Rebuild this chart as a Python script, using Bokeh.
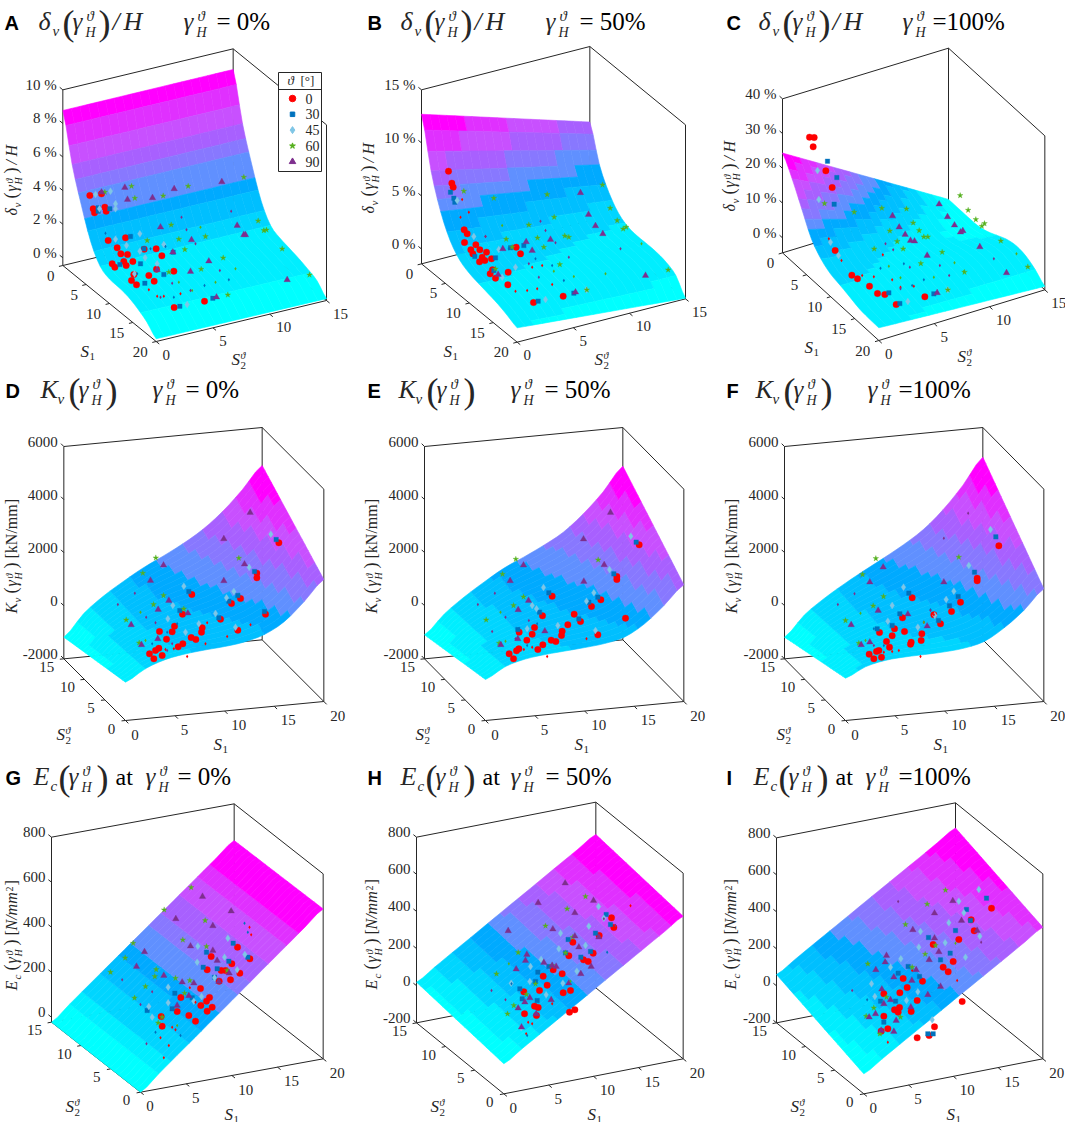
import math

import numpy as np
from bokeh.core.properties import value
from bokeh.embed import file_html
from bokeh.models import ColumnDataSource
from bokeh.plotting import figure
from bokeh.resources import INLINE

# surface height along the edges S2 = 0 and S2 = 15, at S1 = 0, 2, ... 20
A_Z_NEAR = [8.77, 6.0, 4.0, 2.3, 1.3, 1.0, 0.95, 0.85, 0.6, 0.25, -0.3]
A_Z_FAR = [8.77, 6.0, 4.0, 2.3, 1.3, 1.0, 0.85, 0.7, 0.5, 0.25, -0.35]
B_Z_NEAR = [12.7, 8.1, 5.0, 3.0, 1.9, 1.4, 1.15, 0.93, 0.7, 0.35, -0.05]
B_Z_FAR = [7.88, 4.6, 2.7, 1.5, 0.95, 0.8, 0.8, 0.75, 0.55, 0.05, -1.34]
C_Z_NEAR = [24.4, 19.5, 13.4, 7.3, 4.0, 2.2, 1.45, 0.6, -0.27, -0.56, -0.65]
C_Z_FAR = [-3.5, -3.5, -3.5, -3.4, -2.6, -1.2, 0.2, 0.9, 0.5, -1.0, -3.3]
D_Z_NEAR = [-556, -120, 150, 290, 370, 430, 530, 740, 1150, 1830, 2597]
D_Z_FAR = [-1184, -367, 223, 700, 1140, 1510, 1906, 2371, 2974, 3727, 4569]
E_Z_NEAR = [-455, -40, 170, 270, 330, 390, 470, 640, 1060, 1690, 2396]
E_Z_FAR = [-1096, -380, 185, 675, 1127, 1473, 1843, 2270, 2886, 3639, 4544]
F_Z_NEAR = [-405, -50, 120, 180, 200, 230, 300, 480, 920, 1510, 2245]
F_Z_FAR = [-1184, -420, 130, 600, 1030, 1440, 1870, 2370, 3050, 3900, 4883]
G_Z_NEAR = [-22, 45, 112, 178, 245, 311, 378, 445, 511, 578, 644]
G_Z_FAR = [-22, 44, 110, 176, 242, 308, 374, 440, 506, 572, 637]
H_Z_NEAR = [-38, 23, 83, 144, 204, 265, 326, 386, 447, 507, 568]
H_Z_FAR = [19, 80, 141, 201, 262, 323, 383, 444, 505, 565, 626]
I_Z_NEAR = [-92, -32, 29, 89, 149, 210, 270, 330, 390, 451, 511]
I_Z_FAR = [61, 121, 182, 242, 302, 363, 423, 483, 543, 604, 664]

# test points: a single 2D view can't give back their depth, so they stay as
# read off the projected panel (panel origin, thirds of a pixel)
A_RED = [(268, 585), (303, 580), (278, 625), (282, 637), (313, 620), (317, 632), (323, 720), (375, 712), (350, 742), (361, 760), (381, 762), (431, 746), (467, 745), (484, 766), (335, 790), (343, 800), (370, 783), (377, 795), (397, 783), (468, 806), (393, 840), (408, 853), (461, 842), (400, 822), (521, 921), (612, 902), (445, 825), (520, 812)]
A_BLUE = [(293, 632), (328, 625), (293, 622), (538, 917), (637, 893), (358, 792), (430, 745), (518, 755), (390, 708), (433, 848), (490, 822), (420, 790)]
A_LIGHT = [(285, 582), (330, 572), (345, 610), (345, 625), (297, 625), (345, 716), (378, 735), (418, 700), (434, 772), (418, 752), (490, 732), (560, 912), (402, 820), (470, 790)]
A_GREEN = [(313, 575), (393, 557), (403, 593), (488, 586), (563, 557), (730, 530), (512, 673), (773, 661), (798, 688), (790, 690), (440, 720), (535, 716), (615, 708), (668, 772), (602, 806), (927, 823), (682, 883), (505, 815), (553, 747), (845, 745)]
A_PURPLE = [(303, 575), (373, 561), (381, 597), (456, 592), (521, 565), (664, 544), (480, 680), (710, 675), (730, 703), (573, 718), (625, 782), (570, 813), (860, 838), (648, 890), (517, 755), (735, 703), (470, 808)]

B_RED = [(279, 512), (289, 548), (293, 560), (326, 688), (335, 700), (327, 726), (361, 733), (346, 748), (373, 748), (352, 760), (393, 755), (408, 775), (380, 770), (372, 784), (388, 780), (495, 760), (411, 808), (404, 820), (420, 833), (457, 853), (534, 906), (623, 887), (458, 815), (482, 740)]
B_BLUE = [(285, 575), (295, 593), (298, 605), (358, 768), (420, 772), (548, 902), (655, 878), (465, 742), (505, 735), (415, 810)]
B_LIGHT = [(305, 600), (355, 708), (430, 747), (570, 897), (693, 868), (480, 800), (440, 830)]
B_GREEN = [(325, 572), (415, 593), (575, 582), (596, 650), (741, 553), (764, 623), (785, 660), (812, 680), (803, 685), (452, 716), (546, 712), (628, 706), (640, 710), (565, 740), (613, 792), (520, 673), (938, 808), (694, 868), (420, 805), (470, 740)]
B_PURPLE = [(675, 577), (699, 642), (720, 676), (742, 700), (585, 717), (512, 724), (530, 750), (442, 745), (870, 825), (660, 875), (428, 822)]

C_RED = [(297, 410), (311, 411), (308, 439), (346, 511), (365, 561), (374, 750), (424, 824), (441, 835), (477, 857), (501, 879), (523, 882), (557, 912), (643, 889)]
C_BLUE = [(351, 482), (379, 531), (371, 611), (568, 909), (670, 880), (535, 877)]
C_LIGHT = [(321, 510), (325, 597), (360, 725), (384, 765), (592, 903), (712, 868)]
C_GREEN = [(342, 609), (431, 635), (514, 623), (588, 625), (608, 667), (538, 691), (626, 690), (640, 709), (652, 709), (491, 745), (560, 723), (578, 745), (749, 585), (773, 629), (796, 657), (822, 669), (814, 677), (871, 721), (695, 755), (631, 789), (952, 799), (712, 868), (762, 815)]
C_PURPLE = [(686, 611), (546, 646), (566, 680), (584, 702), (600, 720), (612, 722), (711, 649), (732, 674), (757, 691), (750, 695), (808, 739), (888, 817), (680, 877), (650, 765)]

D_RED = [(835, 502), (769, 593), (769, 607), (574, 657), (720, 669), (693, 684), (795, 716), (546, 716), (660, 731), (522, 752), (515, 769), (477, 768), (498, 791), (572, 786), (586, 792), (605, 757), (603, 770), (712, 764), (547, 805), (533, 814), (475, 818), (465, 825), (447, 835), (460, 850), (485, 840)]
D_BLUE = [(827, 492), (762, 588), (565, 648), (712, 660), (685, 677), (538, 705), (655, 727), (792, 708)]
D_LIGHT = [(811, 476), (746, 575), (550, 632), (700, 648), (678, 667), (645, 714), (517, 690), (502, 730), (595, 745), (705, 755), (555, 770)]
D_GREEN = [(466, 547), (427, 593), (489, 660), (459, 687), (377, 733), (416, 802), (550, 700), (715, 548)]
D_PURPLE = [(749, 411), (670, 490), (489, 569), (732, 566), (450, 615), (670, 616), (505, 675), (473, 702), (562, 713), (423, 808), (472, 790), (392, 748)]

E_RED = [(851, 508), (784, 603), (784, 612), (590, 662), (736, 673), (708, 693), (561, 721), (675, 738), (537, 756), (530, 776), (491, 770), (514, 794), (587, 794), (601, 798), (620, 767), (618, 780), (562, 808), (547, 822), (490, 820), (483, 826), (461, 835), (474, 850), (727, 778), (810, 728), (637, 748), (656, 716)]
E_BLUE = [(842, 500), (775, 595), (580, 652), (727, 665), (700, 680), (552, 710), (670, 730), (487, 762)]
E_LIGHT = [(826, 482), (762, 582), (564, 636), (715, 652), (693, 677), (530, 690), (543, 700), (515, 760), (607, 750), (720, 765)]
E_GREEN = [(481, 551), (441, 596), (504, 664), (474, 690), (392, 733), (431, 803), (728, 553)]
E_PURPLE = [(765, 411), (684, 491), (504, 569), (746, 568), (464, 616), (685, 618), (519, 675), (488, 703), (568, 767), (436, 808), (487, 790)]

F_RED = [(865, 511), (800, 608), (800, 616), (605, 667), (750, 680), (723, 708), (576, 727), (690, 745), (552, 760), (545, 781), (507, 771), (528, 798), (602, 800), (600, 806), (634, 775), (632, 795), (490, 850), (505, 825), (498, 828), (476, 836), (670, 718), (513, 845), (537, 815), (582, 768)]
F_BLUE = [(856, 484), (792, 590), (595, 653), (743, 663), (717, 691), (568, 715), (684, 735), (545, 750), (500, 760)]
F_LIGHT = [(840, 462), (775, 570), (579, 635), (730, 647), (707, 672), (545, 690), (673, 720), (532, 737), (622, 755)]
F_GREEN = [(496, 549), (456, 597), (519, 663), (488, 691), (405, 735), (445, 803), (745, 545)]
F_PURPLE = [(518, 575), (478, 620), (700, 620), (503, 705), (592, 716), (452, 808), (478, 800), (650, 752), (422, 748)]

G_RED = [(711, 590), (748, 625), (632, 618), (694, 640), (620, 658), (662, 660), (675, 660), (718, 668), (690, 688), (656, 692), (600, 714), (627, 741), (541, 741), (618, 752), (601, 765), (635, 770), (530, 783), (620, 782), (565, 795), (585, 812), (482, 798), (485, 827)]
G_BLUE = [(698, 578), (742, 620), (618, 605), (685, 632), (608, 650), (650, 655), (642, 680), (523, 728), (515, 775), (440, 780), (575, 742)]
G_LIGHT = [(682, 563), (733, 612), (592, 587), (672, 620), (590, 635), (710, 658), (642, 682), (503, 710), (445, 768), (503, 757), (603, 738), (580, 752), (455, 800)]
G_GREEN = [(572, 411), (491, 478), (614, 510), (398, 578), (547, 568), (618, 588), (467, 657), (374, 622), (463, 678), (435, 708), (525, 683), (568, 690), (330, 665), (402, 742), (473, 817), (680, 660), (552, 728), (485, 800)]
G_PURPLE = [(606, 438), (526, 505), (637, 526), (570, 587), (432, 604), (637, 600), (408, 648), (490, 675), (545, 695), (580, 698), (565, 736), (530, 765), (686, 668), (650, 630), (655, 693), (692, 482)]

H_RED = [(768, 502), (775, 531), (731, 555), (652, 575), (713, 608), (640, 616), (684, 628), (698, 633), (620, 670), (593, 658), (563, 677), (575, 704), (552, 720), (505, 724), (623, 727), (645, 720), (548, 771), (537, 767), (507, 790), (543, 795), (658, 778), (642, 785)]
H_BLUE = [(752, 492), (765, 522), (720, 548), (638, 567), (705, 603), (630, 607), (676, 620), (580, 648), (547, 665), (493, 715), (500, 745), (545, 750), (540, 693)]
H_LIGHT = [(745, 503), (729, 468), (700, 527), (615, 548), (610, 595), (690, 585), (664, 662), (557, 627), (525, 648), (523, 693), (622, 698), (572, 733), (497, 832), (467, 698)]
H_GREEN = [(690, 438), (635, 475), (570, 526), (652, 560), (488, 606), (590, 645), (423, 670), (540, 700), (513, 732), (456, 790), (475, 765), (630, 607)]
H_PURPLE = [(629, 398), (548, 457), (658, 487), (714, 450), (592, 536), (458, 541), (658, 557), (670, 590), (514, 612), (510, 630), (482, 656), (565, 636), (590, 645), (602, 648), (707, 648), (676, 670), (640, 698), (523, 742), (488, 773), (508, 755), (587, 748), (498, 830), (542, 790), (730, 560)]

I_RED = [(843, 473), (782, 508), (791, 541), (745, 567), (668, 582), (728, 633), (698, 650), (713, 664), (578, 684), (636, 692), (590, 711), (568, 727), (520, 730), (620, 750), (567, 771), (552, 778), (563, 785), (602, 783), (520, 797), (532, 835), (512, 842), (755, 753), (672, 829), (656, 855), (620, 862)]
I_BLUE = [(828, 443), (768, 477), (780, 510), (735, 540), (654, 561), (719, 608), (690, 628), (593, 648), (563, 668), (627, 678), (510, 752), (555, 752), (668, 850), (652, 850), (520, 815)]
I_LIGHT = [(805, 417), (745, 452), (760, 487), (808, 557), (715, 517), (630, 543), (704, 577), (625, 590), (571, 625), (540, 650), (483, 700), (622, 724), (588, 750), (493, 738), (665, 808), (765, 620)]
I_GREEN = [(705, 419), (650, 461), (585, 522), (675, 585), (644, 611), (472, 640), (528, 740), (467, 797), (508, 850), (490, 772), (605, 650), (570, 800)]
I_PURPLE = [(727, 451), (672, 488), (607, 538), (753, 510), (800, 540), (672, 563), (685, 604), (528, 615), (524, 635), (496, 658), (656, 628), (617, 658), (604, 690), (550, 680), (690, 708), (652, 733), (514, 716), (540, 748), (520, 760), (557, 810), (476, 800), (601, 770), (495, 790), (512, 840), (550, 843)]

# points that the surface nearly hides: only a sliver of them shows
A_SLIVER_RED = [(445, 868), (470, 887), (490, 887), (540, 880)]
A_SLIVER_BLUE = [(315, 698), (392, 705), (495, 738), (450, 745), (612, 855), (410, 820), (520, 890), (685, 838)]
A_SLIVER_GREEN = [(600, 680), (705, 805), (645, 845), (535, 845), (575, 870)]
A_SLIVER_PURPLE = [(543, 650), (692, 632), (558, 688), (585, 730), (515, 848), (570, 870), (480, 890), (658, 810)]
B_SLIVER_RED = [(320, 597), (340, 635), (315, 650), (390, 708), (480, 872), (515, 870), (530, 800), (560, 795), (545, 865), (590, 852)]
B_SLIVER_BLUE = [(590, 795), (625, 840), (460, 745), (540, 775)]
B_SLIVER_GREEN = [(440, 675), (750, 820), (655, 828), (858, 730), (595, 812)]
B_SLIVER_PURPLE = [(555, 662), (570, 690), (600, 727), (390, 708), (520, 790), (550, 830), (640, 770), (795, 745)]
C_SLIVER_RED = [(355, 715), (393, 780), (490, 829), (517, 763), (610, 857), (570, 860), (545, 838), (455, 825)]
C_SLIVER_BLUE = [(510, 803), (580, 790), (640, 838), (605, 855)]
C_SLIVER_GREEN = [(535, 797), (570, 832), (670, 830), (918, 760), (732, 787), (760, 813)]
C_SLIVER_PURPLE = [(525, 730), (548, 748), (652, 765), (688, 795), (598, 800), (716, 825), (850, 775), (570, 865)]
D_SLIVER_RED = [(615, 805), (620, 742), (680, 783), (750, 748), (560, 843), (520, 820), (495, 822)]
D_SLIVER_BLUE = [(455, 805), (500, 770), (530, 745)]
D_SLIVER_GREEN = [(420, 710), (435, 795)]
D_SLIVER_PURPLE = [(352, 687), (403, 653), (392, 745), (437, 725), (465, 742), (500, 825), (515, 805)]
E_SLIVER_RED = [(575, 843), (640, 748), (725, 775), (693, 790), (810, 728), (530, 815), (505, 822)]
E_SLIVER_BLUE = [(490, 760), (545, 745), (515, 810)]
E_SLIVER_GREEN = [(435, 710), (450, 797)]
E_SLIVER_PURPLE = [(367, 687), (418, 653), (450, 725), (410, 768), (520, 735), (480, 790)]
F_SLIVER_RED = [(630, 843), (640, 740), (520, 830), (565, 825), (545, 828), (670, 718)]
F_SLIVER_BLUE = [(490, 760), (520, 810), (660, 703)]
F_SLIVER_GREEN = [(450, 713), (465, 795), (640, 740)]
F_SLIVER_PURPLE = [(382, 687), (432, 655), (700, 488), (773, 413), (422, 748), (490, 810), (660, 705)]
G_SLIVER_RED = [(747, 530), (752, 553), (568, 712), (505, 885), (490, 922), (480, 862), (515, 830), (525, 838), (585, 755)]
G_SLIVER_BLUE = [(732, 518), (742, 545), (540, 855), (465, 845)]
G_SLIVER_GREEN = [(403, 742), (330, 665), (530, 825)]
G_SLIVER_PURPLE = [(438, 880), (420, 762), (455, 724), (365, 688), (690, 480)]
H_SLIVER_RED = [(825, 466), (590, 760), (518, 815), (530, 820), (648, 720), (512, 850)]
H_SLIVER_BLUE = [(755, 605), (515, 855), (468, 700)]
H_SLIVER_GREEN = [(423, 670), (460, 640), (645, 692)]
H_SLIVER_PURPLE = [(408, 720), (450, 748), (745, 505), (780, 525)]
I_SLIVER_RED = [(532, 875), (605, 660), (740, 690)]
I_SLIVER_BLUE = [(470, 748), (685, 705)]
I_SLIVER_GREEN = [(735, 578), (472, 640), (508, 850)]
I_SLIVER_PURPLE = [(425, 720), (563, 453), (692, 708), (812, 575)]

S1_TICKS = [0, 5, 10, 15, 20]
S2_TICKS = [0, 5, 10, 15]
DELTA_0_TICKS = [0, 2, 4, 6, 8, 10]
DELTA_50_TICKS = [0, 5, 10, 15]
DELTA_100_TICKS = [0, 10, 20, 30, 40]
K_TICKS = [-2000, 0, 2000, 4000, 6000]
E_0_TICKS = [0, 200, 400, 600, 800]
E_TICKS = [-200, 0, 200, 400, 600, 800]
ANGLES = ["0", "30", "45", "60", "90"]

SERIES_COLORS = ["#ff0000", "#0072bd", "#7fc6e6", "#55b01e", "#7e2f8e"]
SERIES_MARKERS = ["circle", "square", "diamond", "star", "triangle"]
SERIES_SIZES = [6.5, 4.5, 7, 6, 6.5]
BANDS = ["#00ffff", "#00eeff", "#00d5ff", "#00bfff", "#00aaff",
         "#6090ff", "#8878ff", "#a860ff", "#c850ff", "#e030ff", "#ff00ff"]
INK = "#262626"
SERIF = "Liberation Serif"

# column, row, corners L F R of the floor and y of the top, zoomed panel units
PANELS = [
    dict(name="A", col=0, row=0, L=(187, 795), F=(467, 1023), R=(978, 900), top=268, front_s1=20,
         zr=(-0.46, 10), near=A_Z_NEAR, far=A_Z_FAR, ticks=DELTA_0_TICKS, unit=" %",
         pts=(A_RED, A_BLUE, A_LIGHT, A_GREEN, A_PURPLE),
         slivers=(A_SLIVER_RED, A_SLIVER_BLUE, A_SLIVER_GREEN, A_SLIVER_PURPLE)),
    dict(name="B", col=1, row=0, L=(198, 790), F=(485, 1025), R=(990, 895), top=268, front_s1=20,
         zr=(-1.4, 15), near=B_Z_NEAR, far=B_Z_FAR, ticks=DELTA_50_TICKS, unit=" %",
         pts=(B_RED, B_BLUE, B_LIGHT, B_GREEN, B_PURPLE),
         slivers=(B_SLIVER_RED, B_SLIVER_BLUE, B_SLIVER_GREEN, B_SLIVER_PURPLE)),
    dict(name="C", col=2, row=0, L=(216, 757), F=(505, 1020), R=(1003, 868), top=295, front_s1=20,
         zr=(-4.3, 40), near=C_Z_NEAR, far=C_Z_FAR, ticks=DELTA_100_TICKS, unit=" %",
         pts=(C_RED, C_BLUE, C_LIGHT, C_GREEN, C_PURPLE),
         slivers=(C_SLIVER_RED, C_SLIVER_BLUE, C_SLIVER_GREEN, C_SLIVER_PURPLE)),
    dict(name="D", col=0, row=1, L=(190, 850), F=(375, 1035), R=(970, 978), top=213, front_s1=0,
         zr=(-2000, 6000), near=D_Z_NEAR, far=D_Z_FAR, ticks=K_TICKS, unit="",
         pts=(D_RED, D_BLUE, D_LIGHT, D_GREEN, D_PURPLE),
         slivers=(D_SLIVER_RED, D_SLIVER_BLUE, D_SLIVER_GREEN, D_SLIVER_PURPLE)),
    dict(name="E", col=1, row=1, L=(207, 850), F=(390, 1035), R=(985, 978), top=213, front_s1=0,
         zr=(-2000, 6000), near=E_Z_NEAR, far=E_Z_FAR, ticks=K_TICKS, unit="",
         pts=(E_RED, E_BLUE, E_LIGHT, E_GREEN, E_PURPLE),
         slivers=(E_SLIVER_RED, E_SLIVER_BLUE, E_SLIVER_GREEN, E_SLIVER_PURPLE)),
    dict(name="F", col=2, row=1, L=(222, 850), F=(405, 1035), R=(1000, 978), top=213, front_s1=0,
         zr=(-2000, 6000), near=F_Z_NEAR, far=F_Z_FAR, ticks=K_TICKS, unit="",
         pts=(F_RED, F_BLUE, F_LIGHT, F_GREEN, F_PURPLE),
         slivers=(F_SLIVER_RED, F_SLIVER_BLUE, F_SLIVER_GREEN, F_SLIVER_PURPLE)),
    dict(name="G", col=0, row=2, L=(153, 815), F=(420, 1025), R=(968, 925), top=260, front_s1=0,
         zr=(-22, 800), near=G_Z_NEAR, far=G_Z_FAR, ticks=E_0_TICKS, unit="",
         pts=(G_RED, G_BLUE, G_LIGHT, G_GREEN, G_PURPLE),
         slivers=(G_SLIVER_RED, G_SLIVER_BLUE, G_SLIVER_GREEN, G_SLIVER_PURPLE)),
    dict(name="H", col=1, row=2, L=(183, 817), F=(445, 1030), R=(983, 925), top=260, front_s1=0,
         zr=(-200, 800), near=H_Z_NEAR, far=H_Z_FAR, ticks=E_TICKS, unit="",
         pts=(H_RED, H_BLUE, H_LIGHT, H_GREEN, H_PURPLE),
         slivers=(H_SLIVER_RED, H_SLIVER_BLUE, H_SLIVER_GREEN, H_SLIVER_PURPLE)),
    dict(name="I", col=2, row=2, L=(198, 817), F=(460, 1030), R=(997, 925), top=262, front_s1=0,
         zr=(-200, 800), near=I_Z_NEAR, far=I_Z_FAR, ticks=E_TICKS, unit="",
         pts=(I_RED, I_BLUE, I_LIGHT, I_GREEN, I_PURPLE),
         slivers=(I_SLIVER_RED, I_SLIVER_BLUE, I_SLIVER_GREEN, I_SLIVER_PURPLE)),
]

# where the title pieces sit: letter x, symbol x, gamma x, equals x, row baseline
TITLE_AT = {"A": (4, 38, 183, 216, 30, "= 0%"), "B": (367, 400, 545, 579, 30, "= 50%"),
            "C": (726, 758, 902, 932, 30, "=100%"), "D": (5, 40, 152, 185, 398, "= 0%"),
            "E": (367, 398, 510, 544, 398, "= 50%"), "F": (726, 755, 867, 898, 398, "=100%"),
            "G": (5, 33, 145, 177, 785, "= 0%"), "H": (367, 400, 510, 545, 785, "= 50%"),
            "I": (726, 753, 865, 898, 785, "=100%")}
ZLABEL_AT = {"A": (17, 215), "B": (374, 213), "C": (735, 211), "D": (17, 613), "E": (377, 613),
             "F": (737, 613), "G": (17, 990), "H": (377, 989), "I": (736, 989)}
S1_AT = {"A": (80, 357), "B": (443, 357), "C": (804, 353), "D": (213, 750), "E": (574, 750),
         "F": (933, 750), "G": (224, 1120), "H": (587, 1120), "I": (946, 1120)}
S2_AT = {"A": (231, 365), "B": (594, 365), "C": (957, 362), "D": (56, 740), "E": (415, 740),
         "F": (776, 740), "G": (65, 1112), "H": (430, 1112), "I": (790, 1112)}

# this page has no body margin, the figure starts at the window's corner
p = figure(width=1065, height=1122, x_range=(0, 1065), y_range=(1122, 0),
           x_axis_location=None, y_axis_location=None, toolbar_location=None,
           output_backend="svg", min_border=0, outline_line_color=None)
p.grid.visible = False

texts = {}


def put(x, y, text, size=15, style="normal", font=SERIF, align="left", base="alphabetic",
        angle=0.0, color=INK):
    # the alphabetic baseline lands about a third of the font size too low here
    if base == "alphabetic":
        if angle:
            x -= 0.35 * size
        else:
            y -= 0.35 * size
    key = (size, style, font, align, base, angle, color)
    group = texts.setdefault(key, ([], [], []))
    group[0].append(x)
    group[1].append(y)
    group[2].append(text)


def refine(values, steps=3):
    # Catmull-Rom through the read values, only so the silhouette is not polygonal
    v = [values[0]] + list(values) + [values[-1]]
    out = []
    for i in range(1, len(v) - 2):
        for t in np.arange(steps) / steps:
            out.append(0.5 * (2 * v[i] + (v[i + 1] - v[i - 1]) * t
                              + (2 * v[i - 1] - 5 * v[i] + 4 * v[i + 1] - v[i + 2]) * t ** 2
                              + (3 * v[i] - v[i - 1] - 3 * v[i + 1] + v[i + 2]) * t ** 3))
    out.append(values[-1])
    return np.array(out)


def projector(c):
    ox, oy = c["col"] * 355, c["row"] * 375
    L, F, R = (np.array(c[k], dtype=float) for k in "LFR")
    height = L[1] - c["top"]
    zmin, zmax = c["zr"]

    def project(s1, s2, z):
        if c["front_s1"] == 20:
            base_x = L[0] + s1 / 20 * (F[0] - L[0]) + s2 / 15 * (R[0] - F[0])
            base_y = L[1] + s1 / 20 * (F[1] - L[1]) + s2 / 15 * (R[1] - F[1])
        else:
            base_x = F[0] + s1 / 20 * (R[0] - F[0]) + s2 / 15 * (L[0] - F[0])
            base_y = F[1] + s1 / 20 * (R[1] - F[1]) + s2 / 15 * (L[1] - F[1])
        return ox + base_x / 3, oy + (base_y - (z - zmin) / (zmax - zmin) * height) / 3

    return project


def draw_box(c, project):
    zmin, zmax = c["zr"]
    xs, ys = [], []

    def seg(a, b):
        x0, y0 = project(*a)
        x1, y1 = project(*b)
        xs.append([x0, x1])
        ys.append([y0, y1])

    corners = [(0, 0), (20, 0), (20, 15), (0, 15)]
    for a, b in zip(corners, corners[1:] + corners[:1]):
        seg((*a, zmin), (*b, zmin))
    # three upright edges and the two upper edges of the back walls
    if c["front_s1"] == 20:
        back = [(0, 0), (0, 15), (20, 15)]
    else:
        back = [(0, 15), (20, 15), (20, 0)]
    for a in back:
        seg((*a, zmin), (*a, zmax))
    seg((*back[0], zmax), (*back[1], zmax))
    seg((*back[1], zmax), (*back[2], zmax))

    L, F, R = (np.array(c[k], dtype=float) for k in "LFR")
    d_lf = (F - L) / np.hypot(*(F - L))
    d_fr = (R - F) / np.hypot(*(R - F))

    # z ticks on the left upright edge
    left = back[0]
    for t in c["ticks"]:
        x, y = project(left[0], left[1], t)
        xs.append([x, x - d_lf[0] * 4])
        ys.append([y, y - d_lf[1] * 4])
        put(x - 6, y - 5, f"{t}{c['unit']}", align="right", base="middle", size=15)

    # floor ticks, pointing out of the floor
    for t in S1_TICKS:
        x, y = project(t, 0, zmin)
        wide = t >= 10
        if c["front_s1"] == 20:
            xs.append([x, x - d_fr[0] * 4])
            ys.append([y, y - d_fr[1] * 4])
            put(x - (16 if wide else 12), y + 10, str(t), align="center", base="middle")
        else:
            xs.append([x, x + d_lf[0] * 4])
            ys.append([y, y + d_lf[1] * 4])
            put(x + (14 if wide else 9.5), y + 14, str(t), align="center", base="middle")
    for t in S2_TICKS:
        wide = t >= 10
        if c["front_s1"] == 20:
            x, y = project(20, t, zmin)
            xs.append([x, x + d_lf[0] * 4])
            ys.append([y, y + d_lf[1] * 4])
            put(x + (14 if wide else 10), y + 13, str(t), align="center", base="middle")
        else:
            x, y = project(0, t, zmin)
            xs.append([x, x - d_fr[0] * 4])
            ys.append([y, y - d_fr[1] * 4])
            put(x - (17 if wide else 14), y + 8, str(t), align="center", base="middle")
    p.multi_line(xs, ys, line_color=INK, line_width=1)


def draw_surface(c, project):
    near, far = refine(c["near"]), refine(c["far"])
    s1 = np.linspace(0, 20, len(near))
    rows = 20
    zlo = min(near.min(), far.min())
    zhi = max(near.max(), far.max())
    span = (zhi - zlo) * 0.96
    xs, ys, colors = [], [], []
    for j in range(rows - 1, -1, -1):
        f0, f1 = j / rows, (j + 1) / rows
        z0 = near + (far - near) * f0
        z1 = near + (far - near) * f1
        cell = (z0[:-1] + z0[1:] + z1[:-1] + z1[1:]) / 4
        band = np.minimum(((cell - zlo) / span * len(BANDS)).astype(int), len(BANDS) - 1)
        i = 0
        while i < len(band):
            k = i
            while k + 1 < len(band) and band[k + 1] == band[i]:
                k += 1
            idx = np.arange(i, k + 2)
            x0, y0 = project(s1[idx], f0 * 15, z0[idx])
            x1, y1 = project(s1[idx], f1 * 15, z1[idx])
            xs.append(list(x0) + list(x1[::-1]))
            ys.append(list(y0) + list(y1[::-1]))
            colors.append(BANDS[band[i]])
            i = k + 1
    p.patches(xs, ys, fill_color=colors, line_color=colors, line_width=0.6)


def gamma_h(x, y):
    put(x, y, "γ", size=25, style="italic")
    put(x + 14, y - 9, "ϑ", size=15, style="italic")
    put(x + 13, y + 7, "H", size=14, style="italic")


def draw_title(c):
    name = c["name"]
    lx, sx, gx, ex, y, eq = TITLE_AT[name]
    put(lx, y - 1, name, size=20, style="bold", font="Liberation Sans", color="#000000")
    if name in "ABC":
        put(sx, y, "δ", size=26, style="italic")
        put(sx + 14, y + 6, "v", size=15, style="italic")
        paren, close = 24, 60
    elif name in "DEF":
        put(sx, y, "K", size=26, style="italic")
        put(sx + 17, y + 6, "v", size=15, style="italic")
        paren, close = 28, 65
    else:
        put(sx, y, "E", size=26, style="italic")
        put(sx + 17, y + 6, "c", size=15, style="italic")
        paren, close = 25, 63
    put(sx + paren, y + 5, "(", size=36)
    gamma_h(sx + paren + 10, y)
    put(sx + close, y + 5, ")", size=36)
    if name in "ABC":
        put(sx + 74, y, "/", size=26, style="italic")
        put(sx + 85, y, "H", size=26, style="italic")
    if name in "GHI":
        put(sx + close + 19, y, "at", size=24, color="#000000")
    gamma_h(gx, y)
    put(ex, y, eq, size=25, color="#000000")


def draw_zlabel(c):
    name = c["name"]
    x0, y0 = ZLABEL_AT[name]
    a = math.pi / 2
    if name in "ABC":
        start, sub = "δ", "v"
    elif name in "DEF":
        start, sub = "K", "v"
    else:
        start, sub = "E", "c"
    w = 8 if name in "ABC" else 11
    pieces = [(start, 0, 0, 16, "italic"), (sub, w, -3, 11, "italic"), ("(", w + 9, 0, 18, "normal"),
              ("γ", w + 16, 0, 16, "italic"), ("ϑ", w + 24, 5, 10, "italic"),
              ("H", w + 23, -4, 10, "italic"), (")", w + 34, 0, 18, "normal")]
    if name in "ABC":
        pieces += [("/", w + 43, 0, 16, "italic"), ("H", w + 51, 0, 16, "italic")]
    elif name in "DEF":
        pieces += [("[kN/mm]", w + 44, 0, 16, "normal")]
    else:
        pieces += [("[", w + 44, 0, 16, "normal"), ("N/mm", w + 49, 0, 16, "italic"),
                   ("2", w + 88, 5, 10, "normal"), ("]", w + 94, 0, 16, "normal")]
    for text, along, perp, size, style in pieces:
        put(x0 - perp, y0 - along, text, size=size, style=style, angle=a)


def draw_axis_names(c):
    x, y = S1_AT[c["name"]]
    put(x, y, "S", size=17, style="italic")
    put(x + 9, y + 3, "1", size=11)
    x, y = S2_AT[c["name"]]
    put(x, y, "S", size=17, style="italic")
    put(x + 9, y + 4, "2", size=11)
    put(x + 9, y - 7, "ϑ", size=10, style="italic")


def draw_points(c):
    ox, oy = c["col"] * 355, c["row"] * 375
    for pts, color, marker, size in zip(c["pts"], SERIES_COLORS, SERIES_MARKERS, SERIES_SIZES):
        p.scatter([ox + q[0] / 3 for q in pts], [oy + q[1] / 3 for q in pts], marker=marker,
                  size=size, fill_color=color, line_color=color, line_width=0.3)
    sliver_colors = [SERIES_COLORS[0], SERIES_COLORS[1], SERIES_COLORS[3], SERIES_COLORS[4]]
    for pts, color in zip(c["slivers"], sliver_colors):
        p.scatter([ox + q[0] / 3 for q in pts], [oy + q[1] / 3 for q in pts], marker="diamond",
                  size=3.5, fill_color=color, line_color=None)


def draw_legend():
    p.quad(left=[278], right=[321], top=[72], bottom=[171], fill_color="#ffffff", line_color=INK,
           line_width=1)
    p.segment([278], [89], [321], [89], line_color=INK, line_width=1)
    put(287, 85, "ϑ", size=13, style="italic")
    put(300, 85, "[°]", size=13)
    for i, name in enumerate(ANGLES):
        y = 98 + i * 15.8
        p.scatter([292], [y], marker=SERIES_MARKERS[i], size=SERIES_SIZES[i],
                  fill_color=SERIES_COLORS[i], line_color=SERIES_COLORS[i])
        put(305, y, name, size=14, base="middle")


for c in PANELS:
    project = projector(c)
    draw_box(c, project)
    draw_surface(c, project)
    draw_points(c)
    draw_title(c)
    draw_zlabel(c)
    draw_axis_names(c)
draw_legend()

for (size, style, font, align, base, angle, color), (xs, ys, labels) in texts.items():
    source = ColumnDataSource(dict(x=xs, y=ys, text=labels))
    p.text("x", "y", text="text", source=source, text_font=value(font),
           text_font_size=f"{size}px", text_font_style=style, text_align=align,
           text_baseline=base, angle=angle, text_color=color)

open("out.html", "w").write(file_html(p, INLINE))
